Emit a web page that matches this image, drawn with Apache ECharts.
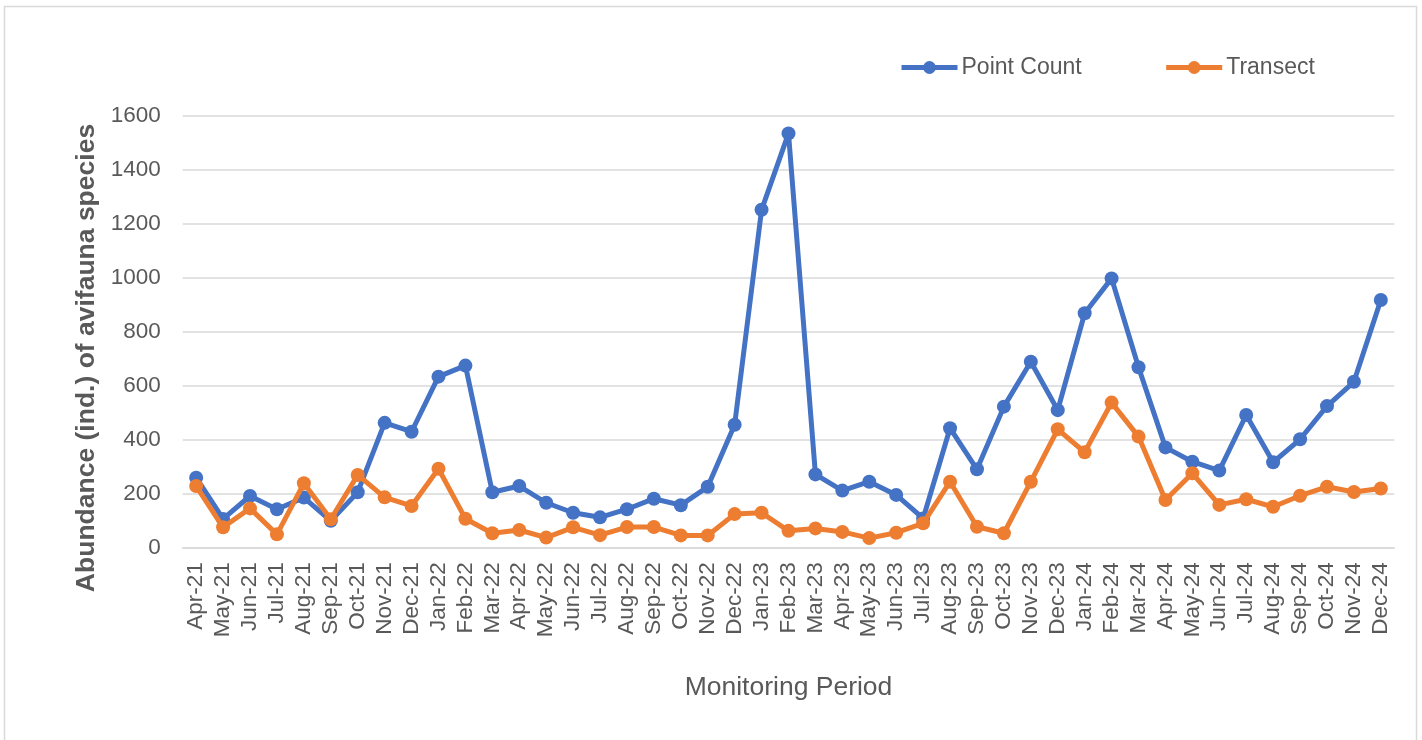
<!DOCTYPE html>
<html>
<head>
<meta charset="utf-8">
<script src="https://cdn.jsdelivr.net/npm/echarts@6/dist/echarts.min.js"></script>
<style>
html,body{margin:0;padding:0;background:#fff;}
#chart{width:1422px;height:740px;}
</style>
</head>
<body>
<div id="chart"></div>
<script>
const categories = ['Apr-21','May-21','Jun-21','Jul-21','Aug-21','Sep-21','Oct-21','Nov-21','Dec-21',
  'Jan-22','Feb-22','Mar-22','Apr-22','May-22','Jun-22','Jul-22','Aug-22','Sep-22','Oct-22','Nov-22','Dec-22',
  'Jan-23','Feb-23','Mar-23','Apr-23','May-23','Jun-23','Jul-23','Aug-23','Sep-23','Oct-23','Nov-23','Dec-23',
  'Jan-24','Feb-24','Mar-24','Apr-24','May-24','Jun-24','Jul-24','Aug-24','Sep-24','Oct-24','Nov-24','Dec-24'];

const pointCount = [258,105,190,141,184,98,204,461,428,
  632,673,204,227,165,128,111,141,180,156,224,454,
  1250,1533,270,210,243,194,107,441,289,521,687,508,
  867,996,667,370,317,284,490,315,400,523,613,916];

const transect = [227,74,144,48,237,104,268,185,153,
  291,106,52,64,36,74,45,75,75,44,44,123,
  128,61,70,57,34,54,89,243,76,52,243,437,
  352,536,410,175,274,157,178,150,191,224,205,218];

const yTicks = {min: 0, max: 1600, interval: 200};

const textColor = '#595959';
const fam = '"Liberation Sans", Arial, sans-serif';
const chart = echarts.init(document.getElementById('chart'));
chart.setOption({
  animation: false,
  backgroundColor: '#ffffff',
  textStyle: {fontFamily: fam},
  graphic: [
    {type: 'rect', shape: {x: 4.5, y: 6.5, width: 1412, height: 760},
     style: {fill: null, stroke: '#D9D9D9', lineWidth: 1.5}, silent: true},
    {type: 'text', x: 87, y: 358, rotation: Math.PI / 2,
     style: {text: 'Abundance (ind.) of avifauna species', fill: textColor,
       font: 'bold 26.5px "Liberation Sans", Arial, sans-serif',
       textAlign: 'center', textVerticalAlign: 'middle'}}
  ],
  legend: {
    left: 899, top: 56, padding: 0,
    itemWidth: 56, itemHeight: 16, itemGap: 82,
    lineStyle: {width: 5},
    textStyle: {color: textColor, fontSize: 23, fontFamily: fam, padding: [0, 0, 0, -1]},
    data: ['Point Count', 'Transect']
  },
  grid: {left: 182.7, right: 27.7, top: 115.3, bottom: 192.7, containLabel: false},
  xAxis: {
    type: 'category',
    data: categories,
    boundaryGap: true,
    name: 'Monitoring Period',
    nameLocation: 'middle',
    nameGap: 127,
    nameTextStyle: {color: textColor, fontSize: 26.5, fontFamily: fam},
    axisLine: {show: true, lineStyle: {color: '#D9D9D9', width: 1.5}},
    axisTick: {show: false},
    axisLabel: {rotate: 90, interval: 0, margin: 15, color: textColor, fontSize: 22.5, fontFamily: fam}
  },
  yAxis: {
    type: 'value',
    min: yTicks.min, max: yTicks.max, interval: yTicks.interval,
    axisLine: {show: false},
    axisTick: {show: false},
    splitLine: {lineStyle: {color: '#D9D9D9', width: 1.5}},
    axisLabel: {margin: 22, color: textColor, fontSize: 22.5, fontFamily: fam,
      formatter: function (v) { return String(v); }}
  },
  series: [
    {name: 'Point Count', type: 'line', data: pointCount,
     symbol: 'circle', symbolSize: 14, showAllSymbol: true,
     lineStyle: {color: '#4472C4', width: 5},
     itemStyle: {color: '#4472C4'}, z: 2},
    {name: 'Transect', type: 'line', data: transect,
     symbol: 'circle', symbolSize: 14, showAllSymbol: true,
     lineStyle: {color: '#ED7D31', width: 5},
     itemStyle: {color: '#ED7D31'}, z: 3}
  ]
});
</script>
</body>
</html>
